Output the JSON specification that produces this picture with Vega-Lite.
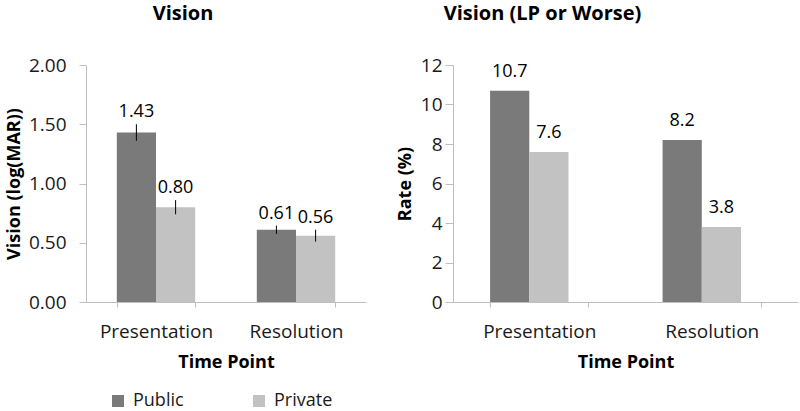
{
  "$schema": "https://vega.github.io/schema/vega-lite/v6.json",
  "padding": {"left": 5, "top": 4, "right": 2, "bottom": 0},
  "background": "white",
  "datasets": {
    "vision": [
      {"time": "Presentation", "sector": "Public", "value": 1.43, "lo": 1.36, "hi": 1.50},
      {"time": "Presentation", "sector": "Private", "value": 0.80, "lo": 0.74, "hi": 0.86},
      {"time": "Resolution", "sector": "Public", "value": 0.61, "lo": 0.575, "hi": 0.645},
      {"time": "Resolution", "sector": "Private", "value": 0.56, "lo": 0.51, "hi": 0.61}
    ],
    "lp": [
      {"time": "Presentation", "sector": "Public", "value": 10.7},
      {"time": "Presentation", "sector": "Private", "value": 7.6},
      {"time": "Resolution", "sector": "Public", "value": 8.2},
      {"time": "Resolution", "sector": "Private", "value": 3.8}
    ]
  },
  "spacing": 30,
  "hconcat": [
    {
      "title": {"text": "Vision", "fontSize": 20, "fontWeight": "bold", "anchor": "middle", "offset": 32, "dx": -43},
      "width": 280,
      "height": 237,
      "data": {"name": "vision"},
      "encoding": {
        "x": {
          "field": "time", "type": "nominal", "title": "Time Point",
          "scale": {"paddingInner": 0.44, "paddingOuter": 0.22},
          "axis": {"labelAngle": 0, "tickBand": "extent", "tickSize": 5, "labelPadding": 15, "titlePadding": 12}
        },
        "xOffset": {"field": "sector", "type": "nominal", "sort": ["Public", "Private"], "scale": {"paddingInner": 0, "paddingOuter": 0}}
      },
      "layer": [
        {
          "mark": {"type": "bar"},
          "encoding": {
            "y": {
              "field": "value", "type": "quantitative", "title": "Vision (log(MAR))",
              "scale": {"domain": [0, 2]},
              "axis": {"values": [0, 0.5, 1, 1.5, 2], "format": ".2f", "tickSize": 7, "labelPadding": 13, "titlePadding": 5, "labelOverlap": false}
            },
            "color": {"field": "sector", "type": "nominal", "sort": ["Public", "Private"], "title": null,
              "scale": {"domain": ["Public", "Private"], "range": ["#7a7a7a", "#c2c2c2"]}}
          }
        },
        {
          "mark": {"type": "rule", "color": "#000000", "strokeWidth": 1},
          "encoding": {"y": {"field": "lo", "type": "quantitative"}, "y2": {"field": "hi"}}
        },
        {
          "mark": {"type": "text", "baseline": "bottom", "dy": -3, "fontSize": 18, "color": "#000000"},
          "encoding": {"y": {"field": "hi", "type": "quantitative"}, "text": {"field": "value", "type": "quantitative", "format": ".2f"}}
        }
      ]
    },
    {
      "title": {"text": "Vision (LP or Worse)", "fontSize": 20, "fontWeight": "bold", "anchor": "middle", "offset": 32, "dx": -83},
      "width": 345,
      "height": 237,
      "data": {"name": "lp"},
      "encoding": {
        "x": {
          "field": "time", "type": "nominal", "title": "Time Point",
          "scale": {"paddingInner": 0.43, "paddingOuter": 0.215},
          "axis": {"labelAngle": 0, "tickBand": "extent", "tickSize": 5, "labelPadding": 15, "titlePadding": 12}
        },
        "xOffset": {"field": "sector", "type": "nominal", "sort": ["Public", "Private"], "scale": {"paddingInner": 0, "paddingOuter": 0}},
        "y": {
          "field": "value", "type": "quantitative", "title": "Rate (%)",
          "scale": {"domain": [0, 12], "nice": false},
          "axis": {"values": [0, 2, 4, 6, 8, 10, 12], "format": "d", "tickSize": 8, "labelPadding": 3, "titlePadding": 6, "labelOverlap": false}
        }
      },
      "layer": [
        {
          "mark": {"type": "bar"},
          "encoding": {
            "color": {"field": "sector", "type": "nominal", "sort": ["Public", "Private"], "title": null,
              "scale": {"domain": ["Public", "Private"], "range": ["#7a7a7a", "#c2c2c2"]}}
          }
        },
        {
          "mark": {"type": "text", "baseline": "bottom", "dy": -10, "fontSize": 18, "color": "#000000"},
          "encoding": {"text": {"field": "value", "type": "quantitative", "format": ".1f"}}
        }
      ]
    }
  ],
  "config": {
    "font": "Open Sans",
    "view": {"stroke": null},
    "title": {"color": "#000000"},
    "axis": {
      "grid": false,
      "labelOverlap": false,
      "domainColor": "#bfbfbf",
      "tickColor": "#bfbfbf",
      "labelColor": "#1a1a1a",
      "labelFontSize": 19,
      "titleColor": "#000000",
      "titleFontSize": 18,
      "titleFontWeight": "bold"
    },
    "legend": {
      "orient": "none",
      "legendX": 23,
      "legendY": 327,
      "direction": "horizontal",
      "symbolType": "square",
      "symbolSize": 144,
      "symbolStrokeWidth": 0,
      "labelFontSize": 18,
      "labelColor": "#1a1a1a",
      "columnPadding": 66,
      "labelOffset": 6
    }
  }
}
